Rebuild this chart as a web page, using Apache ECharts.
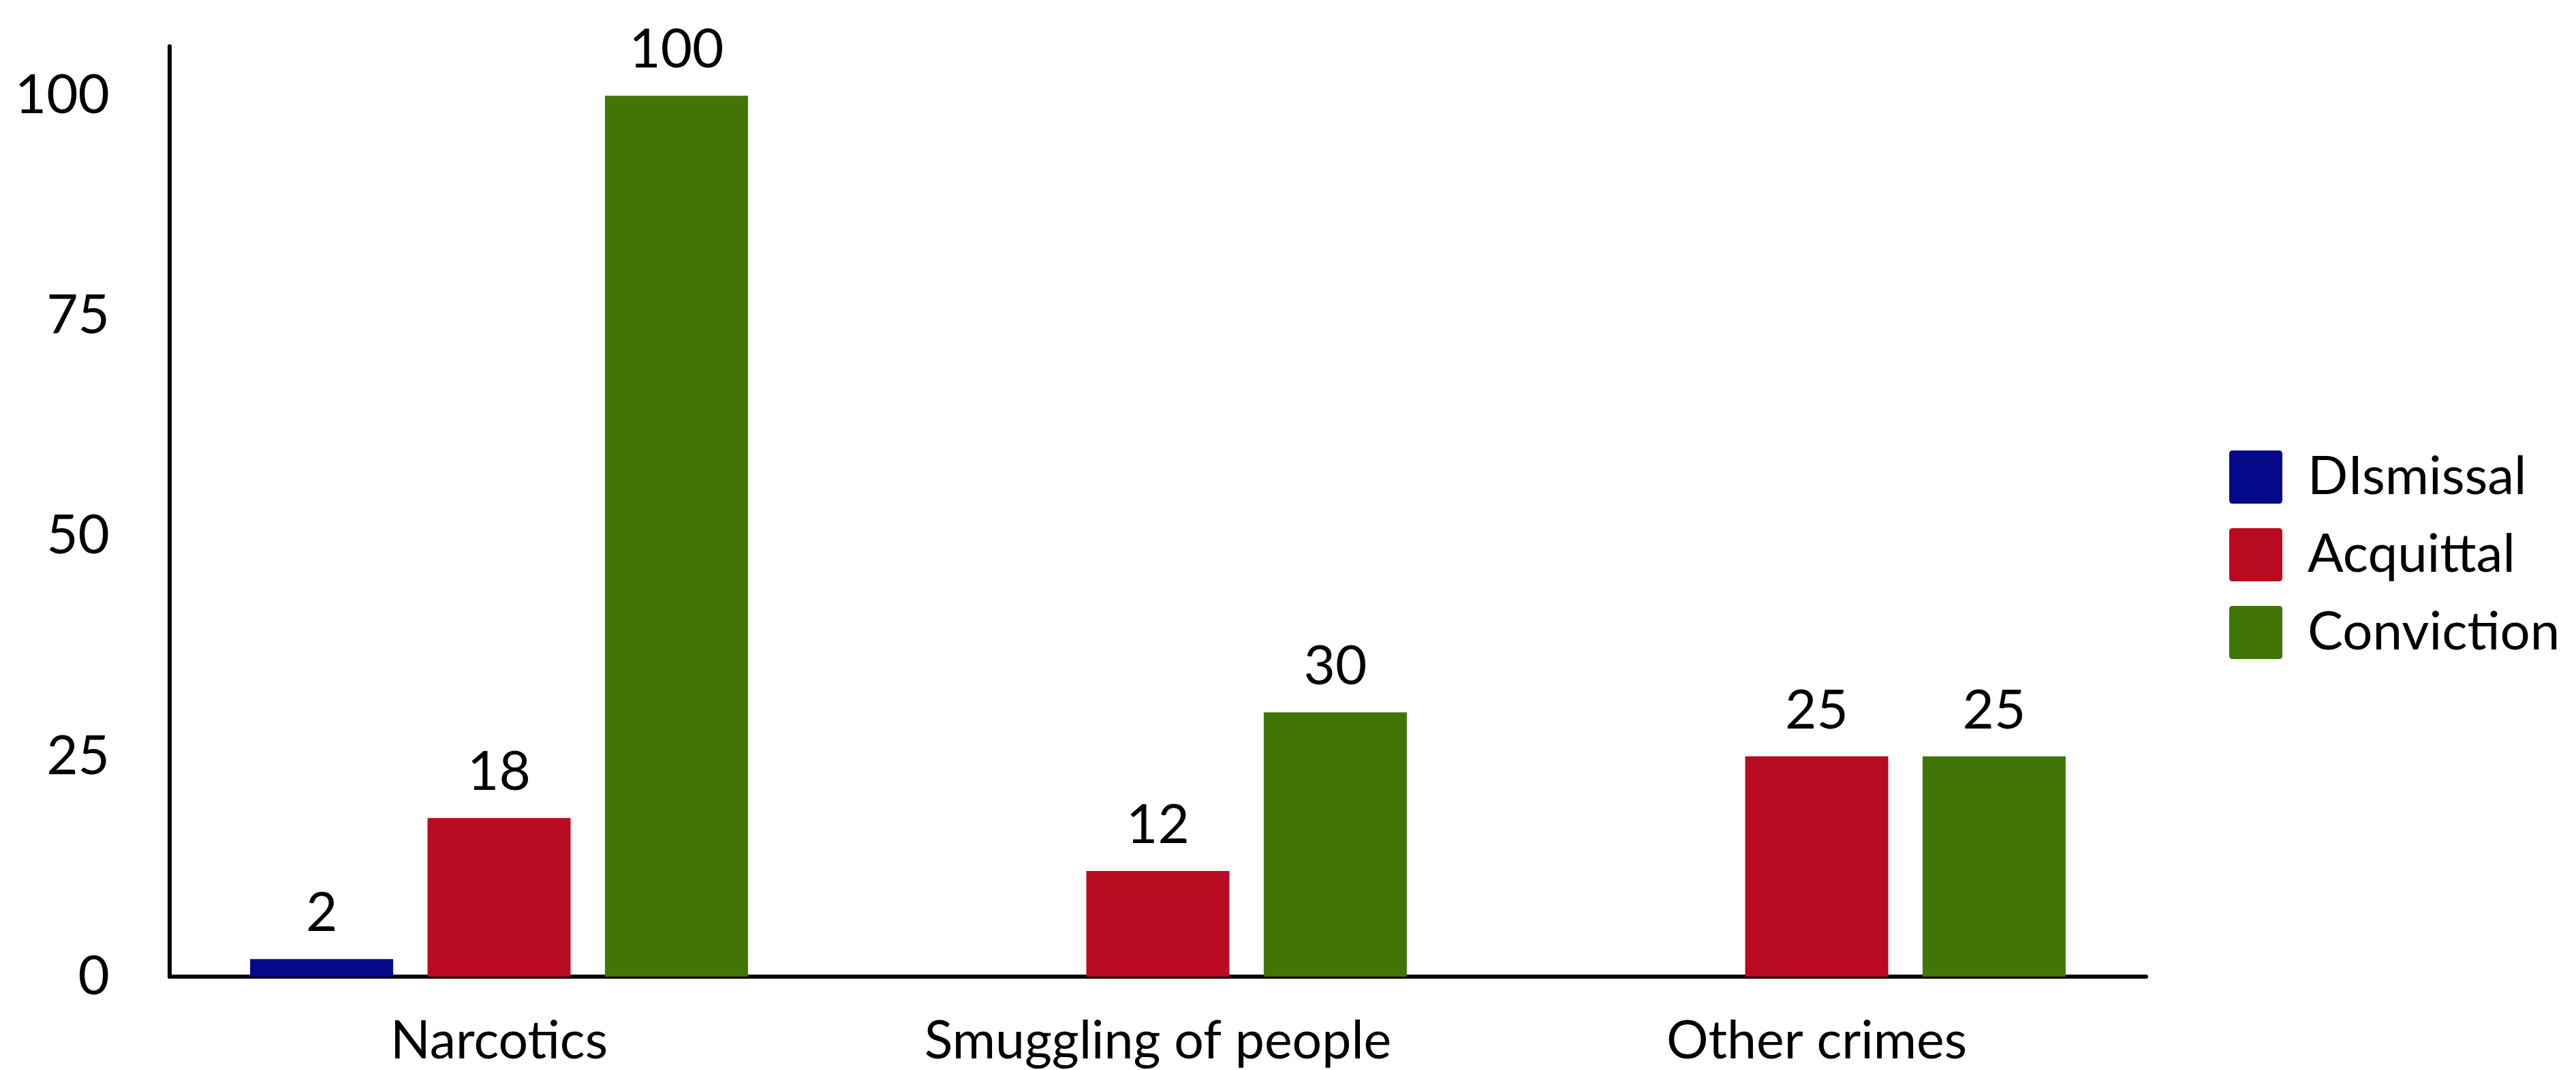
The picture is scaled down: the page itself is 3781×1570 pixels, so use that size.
<!DOCTYPE html>
<html>
<head>
<meta charset="utf-8">
<script src="https://cdn.jsdelivr.net/npm/echarts@6/dist/echarts.min.js"></script>
<style>
html,body{margin:0;padding:0;background:#fff;}
#chart{width:3781px;height:1570px;}
</style>
</head>
<body>
<div id="chart"></div>
<script>
const categories = ["Narcotics", "Smuggling of people", "Other crimes"];
const seriesNames = ["DIsmissal", "Acquittal", "Conviction"];
const dismissal = [2, null, null];
const acquittal = [18, 12, 25];
const conviction = [100, 30, 25];
const colors = ["#05098a", "#b80a20", "#417507"];
const yTicks = [0, 25, 50, 75, 100];

const FONT = "Lato";
const chart = echarts.init(document.getElementById('chart'), null, {renderer: 'canvas'});
const seriesData = [dismissal, acquittal, conviction];
const iconPath = 'path://M5,0H73Q78,0 78,5V73Q78,78 73,78H5Q0,78 0,73V5Q0,0 5,0Z';

chart.setOption({
  animation: false,
  backgroundColor: '#ffffff',
  textStyle: {fontFamily: FONT},
  grid: {left: 249, right: 631, top: 68, bottom: 137, containLabel: false},
  legend: {
    orient: 'vertical',
    left: 3267,
    top: 656,
    itemWidth: 78,
    itemHeight: 78,
    itemGap: 36,
    icon: iconPath,
    data: seriesNames,
    textStyle: {fontFamily: FONT, fontSize: 78, color: '#000', padding: [0, 0, 0, 32]}
  },
  xAxis: {
    type: 'category',
    data: categories,
    axisLine: {lineStyle: {color: '#000', width: 6}},
    axisTick: {show: false},
    axisLabel: {margin: 57, fontFamily: FONT, fontSize: 77, color: '#000'},
    splitLine: {show: false}
  },
  yAxis: {
    type: 'value',
    min: yTicks[0],
    max: 105.6,
    interval: yTicks[1] - yTicks[0],
    axisLine: {show: true, lineStyle: {color: '#000', width: 6}},
    axisTick: {show: false},
    splitLine: {show: false},
    axisLabel: {
      margin: 88, fontFamily: FONT, fontSize: 80, color: '#000',
      showMaxLabel: false,
      formatter: v => (yTicks.indexOf(v) >= 0 ? String(v) : '')
    }
  },
  series: seriesNames.map((name, i) => ({
    name: name,
    type: 'bar',
    data: seriesData[i],
    barWidth: 210,
    barGap: '24%',
    itemStyle: {color: colors[i]},
    label: {show: true, position: 'top', distance: 27, fontFamily: FONT, fontSize: 80, color: '#000'}
  }))
});
</script>
</body>
</html>
